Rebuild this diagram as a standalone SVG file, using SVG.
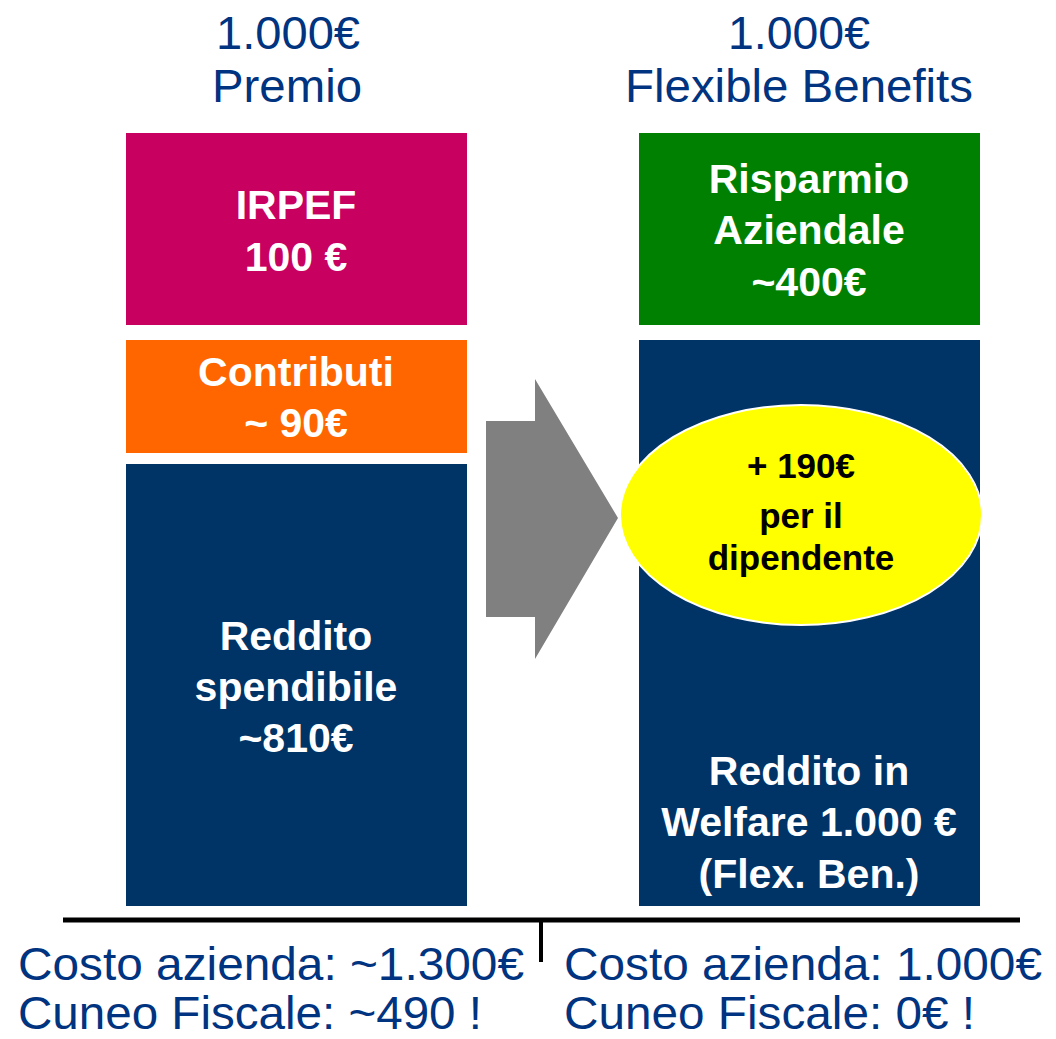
<svg xmlns="http://www.w3.org/2000/svg" width="1056" height="1039" viewBox="0 0 1056 1039">
<style>
.t{font-family:"Liberation Sans",Arial,sans-serif;fill:#003380;text-anchor:middle}
.b{font-family:"Liberation Sans",Arial,sans-serif;font-weight:bold;fill:#fff;text-anchor:middle;font-size:41px}
.e{font-family:"Liberation Sans",Arial,sans-serif;font-weight:bold;fill:#000;text-anchor:middle;font-size:35px}
.f{font-family:"Liberation Sans",Arial,sans-serif;fill:#003380;font-size:47px}
</style>
<rect width="1056" height="1039" fill="#fff"/>
<g id="title-left">
<text class="t" x="288" y="49" font-size="46" textLength="144" lengthAdjust="spacingAndGlyphs">1.000€</text>
<text class="t" x="287" y="102" font-size="46" textLength="150" lengthAdjust="spacingAndGlyphs">Premio</text>
</g>
<g id="title-right">
<text class="t" x="799" y="49" font-size="46" textLength="142" lengthAdjust="spacingAndGlyphs">1.000€</text>
<text class="t" x="799" y="102" font-size="46" textLength="348" lengthAdjust="spacingAndGlyphs">Flexible Benefits</text>
</g>
<g id="irpef">
<rect x="126" y="133" width="341" height="192" fill="#C8005F"/>
<text class="b" x="296" y="219">IRPEF</text>
<text class="b" x="296" y="271">100 €</text>
</g>
<g id="contributi">
<rect x="126" y="340" width="341" height="113" fill="#FF6600"/>
<text class="b" x="296" y="386">Contributi</text>
<text class="b" x="296" y="437">~ 90€</text>
</g>
<g id="reddito-spendibile">
<rect x="126" y="464" width="341" height="442" fill="#003366"/>
<text class="b" x="296" y="650">Reddito</text>
<text class="b" x="296" y="701">spendibile</text>
<text class="b" x="296" y="752">~810€</text>
</g>
<g id="arrow">
<polygon points="486,421 535,421 535,379 618,518 535,659 535,617 486,617" fill="#808080"/>
</g>
<g id="risparmio">
<rect x="639" y="133" width="341" height="192" fill="#008000"/>
<text class="b" x="809" y="193">Risparmio</text>
<text class="b" x="809" y="244">Aziendale</text>
<text class="b" x="809" y="296">~400€</text>
</g>
<g id="reddito-welfare">
<rect x="639" y="340" width="341" height="566" fill="#003366"/>
<text class="b" x="809" y="785">Reddito in</text>
<text class="b" x="809" y="836">Welfare 1.000 €</text>
<text class="b" x="809" y="888">(Flex. Ben.)</text>
</g>
<g id="bonus">
<ellipse cx="801" cy="515" rx="181" ry="110" fill="#FFFF00" stroke="#fff" stroke-width="2"/>
<text class="e" x="801" y="478">+ 190€</text>
<text class="e" x="801" y="528">per il</text>
<text class="e" x="801" y="570">dipendente</text>
</g>
<g id="connectors">
<line x1="63" y1="920" x2="1020" y2="920" stroke="#000" stroke-width="5"/>
<line x1="541" y1="920" x2="541" y2="962" stroke="#000" stroke-width="4"/>
</g>
<g id="footer">
<text class="f" x="18" y="980" textLength="506" lengthAdjust="spacingAndGlyphs">Costo azienda: ~1.300€</text>
<text class="f" x="18" y="1029" textLength="464" lengthAdjust="spacingAndGlyphs">Cuneo Fiscale: ~490 !</text>
<text class="f" x="564" y="980" textLength="478" lengthAdjust="spacingAndGlyphs">Costo azienda: 1.000€</text>
<text class="f" x="564" y="1029" textLength="411" lengthAdjust="spacingAndGlyphs">Cuneo Fiscale: 0€ !</text>
</g>
</svg>
